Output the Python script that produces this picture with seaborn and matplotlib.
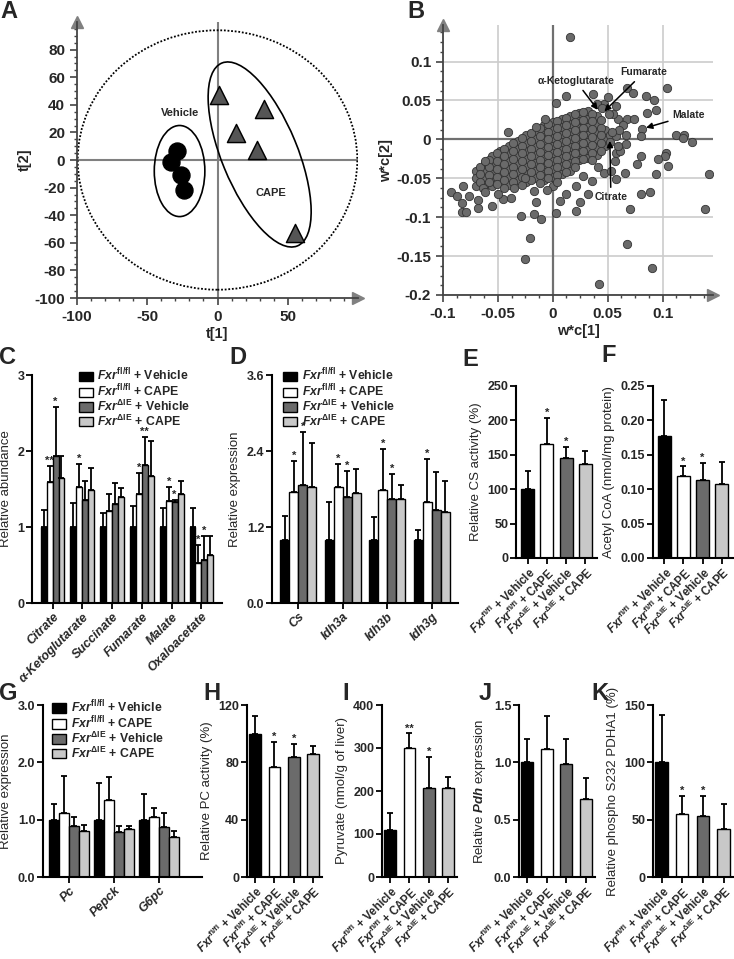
import numpy as np
import pandas as pd
import seaborn as sns
import matplotlib.pyplot as plt
from matplotlib.patches import Ellipse, Patch
from matplotlib.ticker import MultipleLocator

sns.set_theme(style="ticks")
plt.rcParams['font.family'] = ['Liberation Sans', 'DejaVu Sans']
plt.rcParams['font.weight'] = 'bold'
plt.rcParams['axes.unicode_minus'] = False
plt.rcParams['mathtext.fontset'] = 'custom'
plt.rcParams['mathtext.rm'] = 'Liberation Sans:bold'
plt.rcParams['mathtext.it'] = 'Liberation Sans:italic:bold'
plt.rcParams['mathtext.bf'] = 'Liberation Sans:bold'

# ---- data ----
# A: PCA scores
veh_t1 = [-29, -33, -26, -24]
veh_t2 = [6.5, -1.5, -11, -22]
cape_t1 = [1, 33, 13, 28, 55]
cape_t2 = [47, 37, 19.5, 7, -53]

# B: loadings (dense core, in-between core points, scattered points)
b_core = [
    (-0.070, -0.040), (-0.070, -0.050), (-0.070, -0.060),
    (-0.062, -0.030), (-0.062, -0.040), (-0.062, -0.050), (-0.062, -0.058),
    (-0.055, -0.022), (-0.055, -0.032), (-0.055, -0.042), (-0.055, -0.052), (-0.055, -0.060),
    (-0.048, -0.015), (-0.048, -0.025), (-0.048, -0.035), (-0.048, -0.045), (-0.048, -0.055),
    (-0.040, -0.008), (-0.040, -0.018), (-0.040, -0.028), (-0.040, -0.038), (-0.040, -0.048), (-0.040, -0.058),
    (-0.032, -0.002), (-0.032, -0.012), (-0.032, -0.022), (-0.032, -0.032), (-0.032, -0.042), (-0.032, -0.052),
    (-0.024, 0.005), (-0.024, -0.005), (-0.024, -0.015), (-0.024, -0.025), (-0.024, -0.035), (-0.024, -0.045), (-0.024, -0.055),
    (-0.016, 0.010), (-0.016, 0.000), (-0.016, -0.010), (-0.016, -0.020), (-0.016, -0.030), (-0.016, -0.040), (-0.016, -0.050),
    (-0.008, 0.018), (-0.008, 0.008), (-0.008, -0.002), (-0.008, -0.012), (-0.008, -0.022), (-0.008, -0.032), (-0.008, -0.042), (-0.008, -0.052),
    (0.000, 0.022), (0.000, 0.012), (0.000, 0.002), (0.000, -0.008), (0.000, -0.018), (0.000, -0.028), (0.000, -0.038), (0.000, -0.048), (0.000, -0.060),
    (0.008, 0.026), (0.008, 0.016), (0.008, 0.006), (0.008, -0.004), (0.008, -0.014), (0.008, -0.024), (0.008, -0.034), (0.008, -0.044),
    (0.016, 0.030), (0.016, 0.020), (0.016, 0.010), (0.016, 0.000), (0.016, -0.010), (0.016, -0.020), (0.016, -0.030), (0.016, -0.040),
    (0.024, 0.034), (0.024, 0.024), (0.024, 0.014), (0.024, 0.004), (0.024, -0.006), (0.024, -0.016), (0.024, -0.026),
    (0.032, 0.036), (0.032, 0.026), (0.032, 0.016), (0.032, 0.006), (0.032, -0.004), (0.032, -0.014), (0.032, -0.024),
    (0.040, 0.030), (0.040, 0.020), (0.040, 0.010), (0.040, 0.000), (0.040, -0.010), (0.040, -0.020),
    (0.048, 0.012), (0.048, 0.002), (0.048, -0.008),
]
b_core2 = [
    (-0.066, -0.035), (-0.066, -0.045), (-0.066, -0.055),
    (-0.058, -0.026), (-0.058, -0.036), (-0.058, -0.046), (-0.058, -0.055),
    (-0.051, -0.018), (-0.051, -0.028), (-0.051, -0.038), (-0.051, -0.048), (-0.051, -0.057),
    (-0.044, -0.012), (-0.044, -0.022), (-0.044, -0.032), (-0.044, -0.042), (-0.044, -0.052), (-0.044, -0.062),
    (-0.036, -0.005), (-0.036, -0.015), (-0.036, -0.025), (-0.036, -0.035), (-0.036, -0.045), (-0.036, -0.055),
    (-0.028, 0.002), (-0.028, -0.008), (-0.028, -0.018), (-0.028, -0.028), (-0.028, -0.038), (-0.028, -0.048), (-0.028, -0.058),
    (-0.020, 0.008), (-0.020, -0.002), (-0.020, -0.012), (-0.020, -0.022), (-0.020, -0.032), (-0.020, -0.042), (-0.020, -0.052),
    (-0.012, 0.014), (-0.012, 0.004), (-0.012, -0.006), (-0.012, -0.016), (-0.012, -0.026), (-0.012, -0.036), (-0.012, -0.046), (-0.012, -0.056),
    (-0.004, 0.020), (-0.004, 0.010), (-0.004, 0.000), (-0.004, -0.010), (-0.004, -0.020), (-0.004, -0.030), (-0.004, -0.040), (-0.004, -0.050),
    (0.004, 0.024), (0.004, 0.014), (0.004, 0.004), (0.004, -0.006), (0.004, -0.016), (0.004, -0.026), (0.004, -0.036), (0.004, -0.046), (0.004, -0.055),
    (0.012, 0.028), (0.012, 0.018), (0.012, 0.008), (0.012, -0.002), (0.012, -0.012), (0.012, -0.022), (0.012, -0.032), (0.012, -0.042),
    (0.020, 0.032), (0.020, 0.022), (0.020, 0.012), (0.020, 0.002), (0.020, -0.008), (0.020, -0.018), (0.020, -0.028), (0.020, -0.036),
    (0.028, 0.035), (0.028, 0.025), (0.028, 0.015), (0.028, 0.005), (0.028, -0.005), (0.028, -0.015), (0.028, -0.025),
    (0.036, 0.033), (0.036, 0.023), (0.036, 0.013), (0.036, 0.003), (0.036, -0.007), (0.036, -0.017), (0.036, -0.027),
    (0.044, 0.025), (0.044, 0.015), (0.044, 0.005), (0.044, -0.005), (0.044, -0.015),
    (0.052, 0.006), (0.052, -0.004),
]
b_outer = [
    (-0.093, -0.067), (-0.087, -0.073), (-0.083, -0.082), (-0.083, -0.093), (-0.079, -0.093),
    (-0.076, -0.073), (-0.082, -0.060), (-0.068, -0.088), (-0.068, -0.078), (-0.064, -0.062),
    (-0.062, -0.068), (-0.062, -0.028), (-0.041, 0.009), (-0.055, -0.085), (-0.045, -0.076),
    (-0.050, -0.070), (-0.035, -0.062), (-0.038, -0.075),
    (-0.017, -0.066), (-0.017, -0.096), (-0.011, -0.102), (-0.015, -0.081), (0.003, -0.094),
    (0.007, -0.079), (0.021, -0.092), (0.025, -0.080), (0.032, -0.070), (0.021, -0.060),
    (0.028, -0.047), (0.036, -0.053), (0.041, -0.036), (0.047, -0.043), (0.053, -0.041),
    (-0.005, -0.065), (0.012, -0.070), (-0.025, -0.050),
    (0.058, -0.017), (0.061, -0.015), (0.059, -0.009), (0.067, -0.006), (0.058, 0.004),
    (0.067, 0.006), (0.068, 0.026), (0.074, 0.026), (0.059, 0.026), (0.055, 0.032),
    (0.051, 0.032), (0.047, 0.046), (0.064, 0.019), (0.060, 0.012), (0.054, 0.010),
    (0.057, -0.028), (0.066, -0.043), (0.058, -0.051), (0.070, -0.089),
    (0.016, 0.132), (0.068, 0.066), (0.104, 0.066), (0.073, 0.059), (0.085, 0.056),
    (0.092, 0.050), (0.094, 0.038), (0.086, 0.034), (0.037, 0.058), (0.050, 0.055),
    (0.012, 0.056), (0.003, 0.047), (0.058, 0.043), (-0.007, 0.026), (-0.015, 0.016),
    (0.040, 0.045), (0.045, 0.040),
    (0.081, 0.013), (0.080, 0.004), (0.112, 0.006), (0.120, 0.006), (0.119, 0.002),
    (0.127, -0.003), (0.103, -0.018), (0.102, -0.021), (0.096, -0.025), (0.105, -0.034),
    (0.094, -0.044), (0.142, -0.044), (0.139, -0.089), (0.080, -0.021), (0.077, -0.031),
    (0.080, -0.070), (0.089, -0.068), (0.068, -0.135), (0.090, -0.165), (0.042, -0.186),
    (-0.025, -0.154), (-0.021, -0.127), (-0.029, -0.098),
]

groups = [r"$\it{Fxr}^{\rm fl/fl}$ + Vehicle", r"$\it{Fxr}^{\rm fl/fl}$ + CAPE",
          r"$\it{Fxr}^{\rm ΔIE}$ + Vehicle", r"$\it{Fxr}^{\rm ΔIE}$ + CAPE"]
colors = ['#000000', '#ffffff', '#6b6b6b', '#c8c8c8']

# C: TCA metabolites
c_cats = ['Citrate', 'α-Ketoglutarate', 'Succinate', 'Fumarate', 'Malate', 'Oxaloacetate']
c_mean = [[1.0, 1.59, 1.93, 1.64], [1.0, 1.52, 1.36, 1.49], [1.0, 1.21, 1.30, 1.40],
          [1.0, 1.43, 1.82, 1.67], [1.0, 1.34, 1.33, 1.43], [1.0, 0.53, 0.56, 0.63]]
c_sd = [[0.23, 0.21, 0.65, 0.29], [0.31, 0.31, 0.24, 0.29], [0.18, 0.22, 0.28, 0.11],
        [0.27, 0.28, 0.37, 0.46], [0.25, 0.19, 0.03, 0.17], [0.25, 0.23, 0.32, 0.25]]
c_stars = [['', '**', '*', ''], ['', '*', '', ''], ['', '', '', ''],
           ['', '*', '**', ''], ['', '*', '*', ''], ['', '*', '*', '']]

# D: TCA enzyme expression
d_cats = ['Cs', 'Idh3a', 'Idh3b', 'Idh3g']
d_mean = [[1.0, 1.76, 1.87, 1.83], [1.0, 1.83, 1.68, 1.74],
          [1.0, 1.78, 1.64, 1.65], [1.0, 1.60, 1.47, 1.43]]
d_sd = [[0.38, 0.49, 0.83, 0.70], [0.60, 0.36, 0.41, 0.38],
        [0.36, 0.65, 0.40, 0.22], [0.16, 0.67, 0.60, 0.49]]
d_stars = [['', '*', '*', ''], ['', '*', '*', ''], ['', '*', '*', ''], ['', '*', '', '']]

# E-F
e_mean = [100, 166, 145, 137]
e_sd = [27, 38, 17, 18]
f_mean = [0.177, 0.119, 0.114, 0.107]
f_sd = [0.052, 0.014, 0.024, 0.033]
ef_stars = ['', '*', '*', '']

# G: gluconeogenic genes
g_cats = ['Pc', 'Pepck', 'G6pc']
g_mean = [[1.0, 1.12, 0.885, 0.80], [1.0, 1.34, 0.79, 0.83], [1.0, 1.05, 0.87, 0.70]]
g_sd = [[0.28, 0.64, 0.17, 0.10], [0.64, 0.40, 0.10, 0.06], [0.44, 0.15, 0.24, 0.10]]

# H-K
h_mean = [100, 77, 84, 86]
h_sd = [12, 17, 9, 5.5]
i_mean = [110, 299, 206, 208]
i_sd = [39, 35, 74, 25]
i_stars = ['', '**', '*', '']
j_mean = [1.0, 1.12, 0.985, 0.68]
j_sd = [0.20, 0.28, 0.22, 0.18]
k_mean = [100, 55, 53, 42]
k_sd = [41, 16, 18, 22]

W, H = 734, 959
fig = plt.figure(figsize=(W / 100, H / 100), dpi=100)


def px_axes(l, t, r, b):
    return fig.add_axes([l / W, 1 - b / H, (r - l) / W, (b - t) / H])


def style_axis(ax, size=9):
    sns.despine(ax=ax)
    for s in ['left', 'bottom']:
        ax.spines[s].set_linewidth(1.5)
        ax.spines[s].set_color('black')
    ax.tick_params(axis='both', width=1.3, length=4, color='black', labelsize=size, pad=1.5)


def add_err(ax, x, h, e, star):
    ax.errorbar(x, h, yerr=[[0], [e]], fmt='none', ecolor='black', elinewidth=1.3,
                capsize=2.5, capthick=1.3, zorder=1)
    if star:
        ax.text(x, h + e, star, ha='center', va='bottom', fontsize=8)


def grouped_bars(ax, cats, means, sds, stars, width):
    df = pd.DataFrame({'cat': [c for c in cats for _ in groups],
                       'grp': groups * len(cats),
                       'val': [v for row in means for v in row]})
    sns.barplot(data=df, x='cat', y='val', hue='grp', hue_order=groups,
                palette=dict(zip(groups, colors)), width=width, edgecolor='black',
                linewidth=1.0, errorbar=None, legend=False, ax=ax)
    for k, cont in enumerate(list(ax.containers)):
        for j, bar in enumerate(cont):
            add_err(ax, bar.get_x() + bar.get_width() / 2, bar.get_height(),
                    sds[j][k], stars[j][k] if stars else '')
    style_axis(ax)
    ax.set_xticks(range(len(cats)))
    ax.set_xticklabels(cats, rotation=45, ha='right', rotation_mode='anchor',
                       fontstyle='italic', fontsize=9)
    ax.set_xlabel('')


def group_legend(ax, x, y):
    handles = [Patch(facecolor=c, edgecolor='black', lw=1, label=g) for g, c in zip(groups, colors)]
    ax.legend(handles=handles, loc='upper left', bbox_to_anchor=(x, y), frameon=False,
              handlelength=1.15, handleheight=0.85, handletextpad=0.4, labelspacing=-0.05,
              borderpad=0, borderaxespad=0, fontsize=8.8)


def single_bars(ax, means, sds, stars, width):
    sns.barplot(x=groups, y=means, hue=groups, palette=dict(zip(groups, colors)),
                width=width, edgecolor='black', linewidth=1.0, legend=False, ax=ax)
    for k, bar in enumerate(ax.patches):
        add_err(ax, bar.get_x() + bar.get_width() / 2, bar.get_height(),
                sds[k], stars[k] if stars else '')
    style_axis(ax)
    ax.set_xticks(range(4))
    ax.set_xticklabels(groups, rotation=45, ha='right', rotation_mode='anchor', fontsize=8.3)


def arrow_axes(ax, color='#808080'):
    ax.plot(0, 1, marker='^', ms=9, color=color, transform=ax.transAxes, clip_on=False)
    ax.plot(1, 0, marker='>', ms=9, color=color, transform=ax.transAxes, clip_on=False)


# ---- A ----
axA = px_axes(77, 22, 358, 298)
axA.axhline(0, color='#808080', lw=1.5, zorder=0)
axA.axvline(0, color='#808080', lw=1.5, zorder=0)
sns.scatterplot(x=veh_t1, y=veh_t2, marker='o', s=150, color='black', edgecolor='black', ax=axA, zorder=3)
sns.scatterplot(x=cape_t1, y=cape_t2, marker='^', s=170, color='#555555', edgecolor='black', ax=axA, zorder=3)
axA.add_patch(Ellipse((0, 0), 199, 188, fill=False, ls=(0, (1, 1)), lw=1.3, ec='black'))
axA.add_patch(Ellipse((-27, -8), 36, 66, fill=False, lw=1.2, ec='black'))
axA.add_patch(Ellipse((30, 4), 143, 54, angle=-68, fill=False, lw=1.2, ec='black'))
axA.text(-27, 34, 'Vehicle', ha='center', va='center', fontsize=8)
axA.text(38, -24, 'CAPE', ha='center', va='center', fontsize=8)
axA.set_xlim(-100, 100)
axA.set_ylim(-100, 100)
axA.set_xticks([-100, -50, 0, 50])
axA.set_yticks(range(-100, 81, 20))
axA.xaxis.set_minor_locator(MultipleLocator(10))
axA.yaxis.set_minor_locator(MultipleLocator(5))
sns.despine(ax=axA)
for s in ['left', 'bottom']:
    axA.spines[s].set_color('#444444')
    axA.spines[s].set_linewidth(1.3)
axA.tick_params(which='major', length=5, width=1.2, color='#444444', labelsize=11)
axA.tick_params(which='minor', length=2.5, width=1, color='#444444')
axA.set_xlabel('t[1]', fontsize=10.5, fontweight='bold', labelpad=2)
axA.set_ylabel('t[2]', fontsize=10.5, fontweight='bold', labelpad=2)
arrow_axes(axA)

# ---- B ----
axB = px_axes(443, 25, 713, 295)
axB.grid(True, color='#cccccc', lw=1.2, zorder=0)
axB.axhline(0, color='#707070', lw=1.6, zorder=1)
axB.axvline(0, color='#707070', lw=1.6, zorder=1)
b_all = b_core + b_core2 + b_outer
bx = [p[0] for p in b_all]
by = [p[1] for p in b_all]
sns.scatterplot(x=bx, y=by, s=36, color='#6a6a6a', edgecolor='#333333', linewidth=0.6, ax=axB, zorder=3)
for name, xy, xyt in [('α-Ketoglutarate', (0.041, 0.038), (0.021, 0.075)),
                      ('Fumarate', (0.047, 0.036), (0.083, 0.086)),
                      ('Malate', (0.085, 0.015), (0.124, 0.031)),
                      ('Citrate', (0.052, -0.002), (0.053, -0.074))]:
    axB.annotate(name, xy=xy, xytext=xyt, ha='center', va='center', fontsize=7.5, zorder=5,
                 arrowprops=dict(arrowstyle='-|>', color='black', lw=1.1, mutation_scale=9,
                                 shrinkA=1, shrinkB=0))
axB.set_xlim(-0.1, 0.146)
axB.set_ylim(-0.2, 0.147)
axB.set_xticks([-0.1, -0.05, 0, 0.05, 0.1])
axB.set_xticklabels(['-0.1', '-0.05', '0', '0.05', '0.1'])
axB.set_yticks([-0.2, -0.15, -0.1, -0.05, 0, 0.05, 0.1])
axB.set_yticklabels(['-0.2', '-0.15', '-0.1', '-0.05', '0', '0.05', '0.1'])
axB.xaxis.set_minor_locator(MultipleLocator(0.0125))
axB.yaxis.set_minor_locator(MultipleLocator(0.0125))
sns.despine(ax=axB)
for s in ['left', 'bottom']:
    axB.spines[s].set_color('#444444')
    axB.spines[s].set_linewidth(1.3)
axB.tick_params(which='major', length=5, width=1.2, color='#444444', labelsize=11)
axB.tick_params(which='minor', length=2.5, width=1, color='#444444')
axB.set_xlabel('w*c[1]', fontsize=10.5, fontweight='bold', labelpad=2)
axB.set_ylabel('w*c[2]', fontsize=10.5, fontweight='bold', labelpad=2)
arrow_axes(axB)

# ---- C ----
axC = px_axes(32, 375, 222, 603)
grouped_bars(axC, c_cats, c_mean, c_sd, c_stars, 0.8)
axC.set_ylim(0, 3)
axC.set_yticks([0, 1, 2, 3])
axC.set_ylabel('Relative abundance', fontsize=9.5, fontweight='normal')
group_legend(axC, 0.245, 1.035)

# ---- D ----
axD = px_axes(272, 375, 458, 603)
grouped_bars(axD, d_cats, d_mean, d_sd, d_stars, 0.8)
axD.set_ylim(0, 3.6)
axD.set_yticks([0, 1.2, 2.4, 3.6])
axD.set_yticklabels(['0.0', '1.2', '2.4', '3.6'])
axD.set_ylabel('Relative expression', fontsize=9.5, fontweight='normal')
group_legend(axD, 0.06, 1.035)

# ---- E ----
axE = px_axes(516, 386, 597, 558)
single_bars(axE, e_mean, e_sd, ef_stars, 0.68)
axE.set_xlim(-0.6, 3.6)
axE.set_ylim(0, 250)
axE.set_yticks(range(0, 251, 50))
axE.set_ylabel('Relative CS activity (%)', fontsize=9.5, fontweight='normal')

# ---- F ----
axF = px_axes(653, 386, 733, 558)
single_bars(axF, f_mean, f_sd, ef_stars, 0.68)
axF.set_xlim(-0.6, 3.6)
axF.set_ylim(0, 0.25)
axF.set_yticks([0, 0.05, 0.10, 0.15, 0.20, 0.25])
axF.set_yticklabels(['0.00', '0.05', '0.10', '0.15', '0.20', '0.25'])
axF.set_ylabel('Acetyl CoA (nmol/mg protein)', fontsize=9.5, fontweight='normal')

# ---- G ----
axG = px_axes(43, 705, 202, 877)
grouped_bars(axG, g_cats, g_mean, g_sd, None, 0.9)
axG.set_xlim(-0.58, 2.95)
axG.set_ylim(0, 3)
axG.set_yticks([0, 1, 2, 3])
axG.set_yticklabels(['0.0', '1.0', '2.0', '3.0'])
axG.set_ylabel('Relative expression', fontsize=9.5, fontweight='normal')
group_legend(axG, 0.057, 1.035)

# ---- H ----
axH = px_axes(247, 705, 322, 877)
single_bars(axH, h_mean, h_sd, ef_stars, 0.6)
axH.set_xlim(-0.42, 3.46)
axH.set_ylim(0, 120)
axH.set_yticks([0, 40, 80, 120])
axH.set_ylabel('Relative PC activity (%)', fontsize=9.5, fontweight='normal')

# ---- I ----
axI = px_axes(382, 705, 457, 877)
single_bars(axI, i_mean, i_sd, i_stars, 0.6)
axI.set_xlim(-0.42, 3.46)
axI.set_ylim(0, 400)
axI.set_yticks(range(0, 401, 100))
axI.set_ylabel('Pyruvate (nmol/g of liver)', fontsize=9.5, fontweight='normal')

# ---- J ----
axJ = px_axes(519, 705, 595, 877)
single_bars(axJ, j_mean, j_sd, None, 0.62)
axJ.set_xlim(-0.42, 3.46)
axJ.set_ylim(0, 1.5)
axJ.set_yticks([0, 0.5, 1.0, 1.5])
axJ.set_yticklabels(['0.0', '0.5', '1.0', '1.5'])
axJ.set_ylabel(r'Relative $\it{Pdh}$ expression', fontsize=9.5, fontweight='normal')

# ---- K ----
axK = px_axes(653, 705, 733, 877)
single_bars(axK, k_mean, k_sd, ef_stars, 0.6)
axK.set_xlim(-0.42, 3.46)
axK.set_ylim(0, 150)
axK.set_yticks([0, 50, 100, 150])
axK.set_ylabel('Relative phospho S232 PDHA1 (%)', fontsize=9.5, fontweight='normal')

# panel letters
for letter, x, y in [('A', 9, 12), ('B', 416, 12), ('C', 8, 357), ('D', 238, 357),
                     ('E', 470, 360), ('F', 609, 355), ('G', 8, 693), ('H', 212, 693),
                     ('I', 346, 693), ('J', 485, 693), ('K', 600, 693)]:
    fig.text(x / W, 1 - y / H, letter, fontsize=17, fontweight='bold', ha='center', va='center')

fig.savefig('out.png', dpi=100)
